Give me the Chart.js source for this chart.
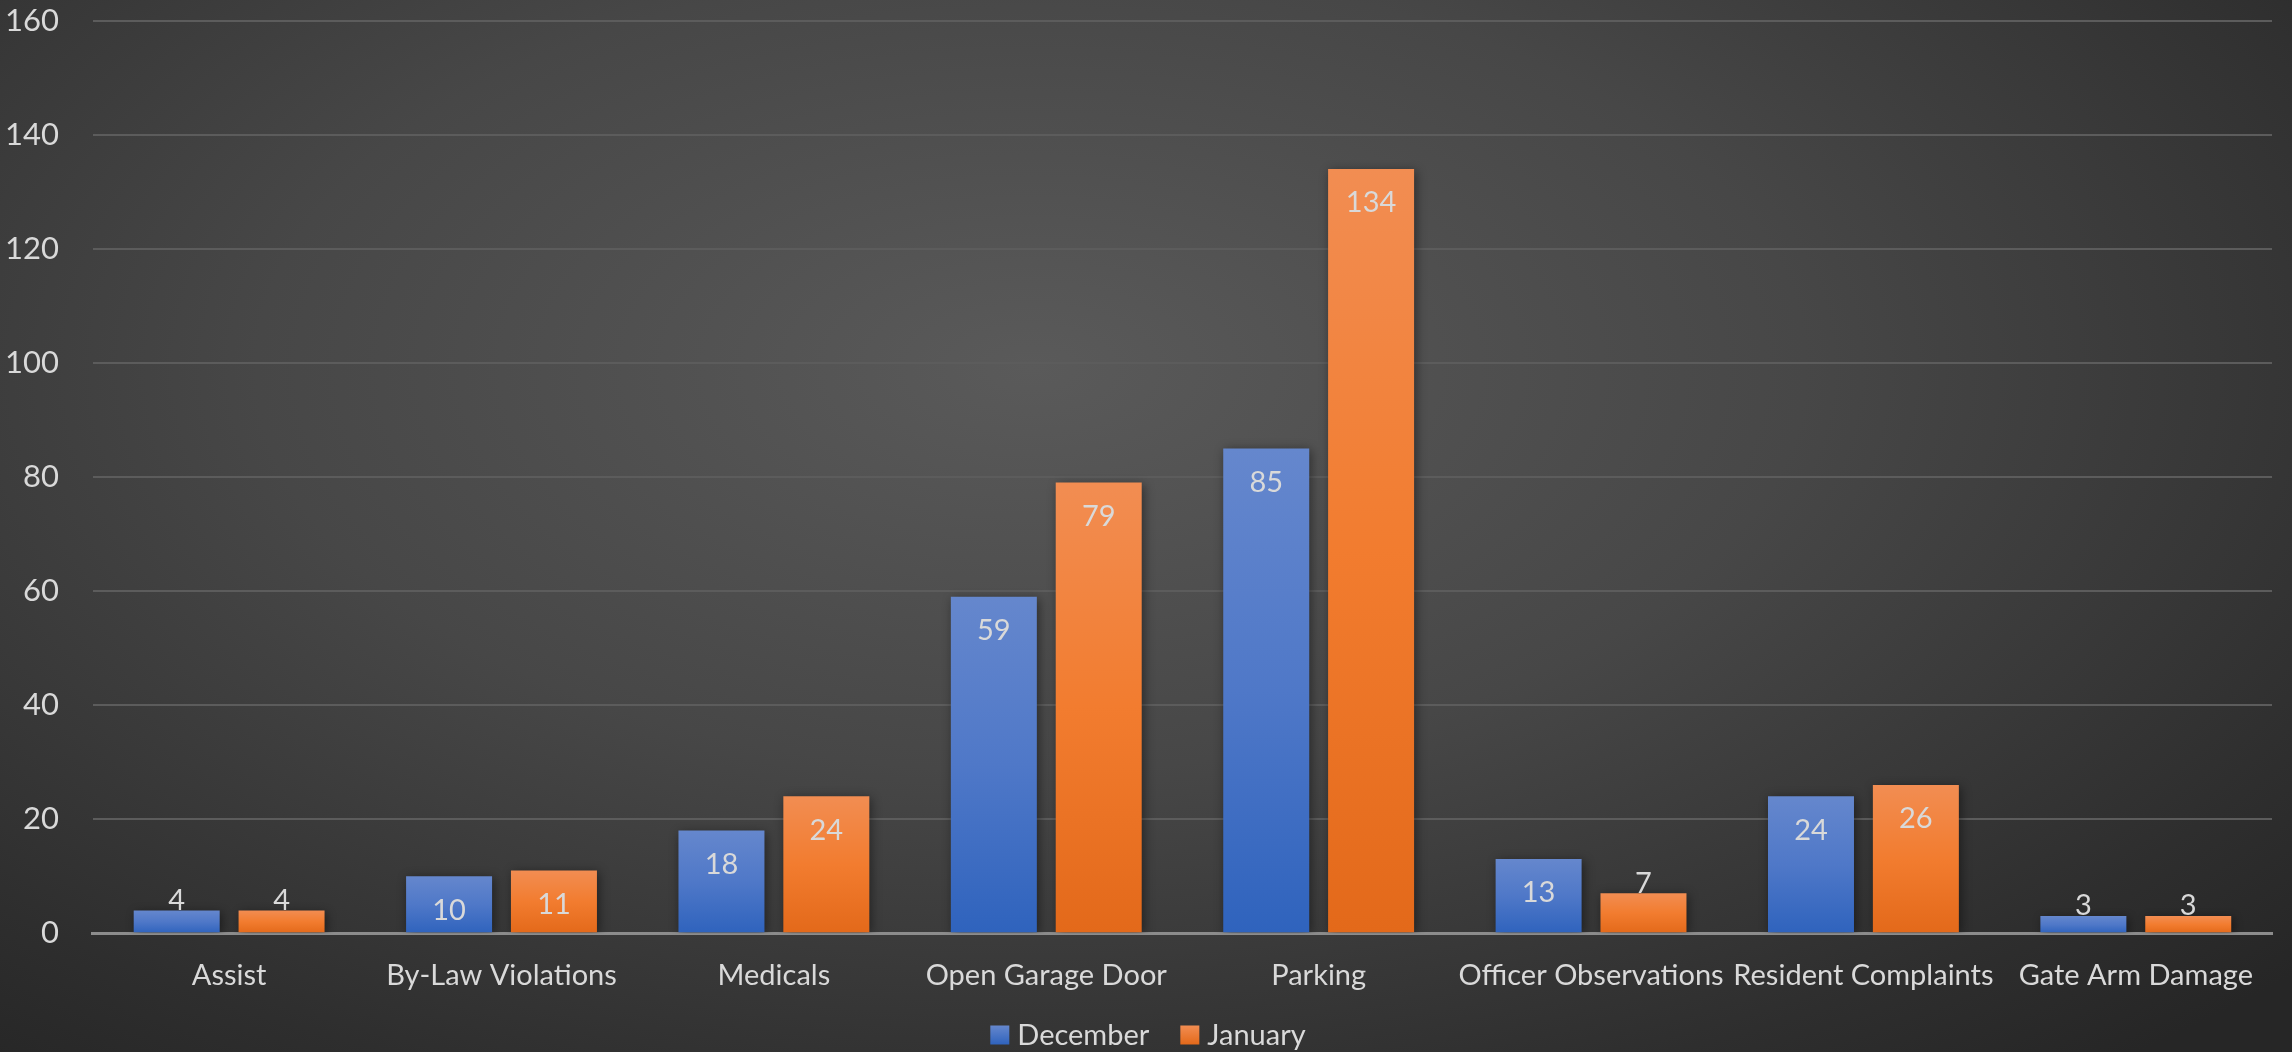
<!DOCTYPE html>
<html>
<head>
<meta charset="utf-8">
<script src="https://cdn.jsdelivr.net/npm/chart.js@4.4.1/dist/chart.umd.min.js"></script>
<style>
  html, body { margin: 0; padding: 0; }
  body {
    width: 2292px; height: 1052px; overflow: hidden; position: relative;
    background: radial-gradient(ellipse 75% 85% at 45% 35%, #5a5a5a 0%, #474747 45%, #2e2e2e 85%, #262626 100%);
  }
  #wrap { position: absolute; left: -29px; top: -32px; width: 2321px; height: 1094px; }
</style>
</head>
<body>
<div id="wrap"><canvas id="grafico"></canvas></div>
<script>
var categorias = ['Assist', 'By-Law Violations', 'Medicals', 'Open Garage Door', 'Parking', 'Officer Observations', 'Resident Complaints', 'Gate Arm Damage'];
var dezembro = [4, 10, 18, 59, 85, 13, 24, 3];
var janeiro = [4, 11, 24, 79, 134, 7, 26, 3];
var nomesSeries = ['December', 'January'];

var fonte = 'Lato, "Open Sans", sans-serif';
var corTexto = '#d9d9d9';
var coresAzul = ['#6587cd', '#4f78c8', '#2f63bd'];
var coresLaranja = ['#f28d52', '#f27c2f', '#e3691a'];

// deslocamento do canvas dentro da pagina
var deslocX = 29;
var deslocY = 32;

// gradiente por barra, claro em cima e escuro embaixo
function gradienteBarra(cores) {
    return function (context) {
        var chart = context.chart;
        if (!chart.chartArea || context.raw === undefined) return cores[1];
        var y = chart.scales.y;
        var topo = y.getPixelForValue(context.raw);
        var base = y.getPixelForValue(0);
        if (base - topo < 1) return cores[1];
        var g = chart.ctx.createLinearGradient(0, topo, 0, base);
        g.addColorStop(0, cores[0]);
        g.addColorStop(0.5, cores[1]);
        g.addColorStop(1, cores[2]);
        return g;
    };
}

var sombraBarras = {
    id: 'sombraBarras',
    beforeDatasetsDraw: function (chart) {
        var ctx = chart.ctx;
        ctx.save();
        ctx.shadowColor = 'rgba(0,0,0,0.45)';
        ctx.shadowBlur = 10;
        ctx.shadowOffsetX = 2;
        ctx.shadowOffsetY = 2;
    },
    afterDatasetsDraw: function (chart) {
        chart.ctx.restore();
    }
};

var rotulos = {
    id: 'rotulos',
    afterDatasetsDraw: function (chart) {
        var ctx = chart.ctx;
        ctx.save();
        ctx.font = '29px ' + fonte;
        ctx.fillStyle = corTexto;
        ctx.textAlign = 'center';
        ctx.textBaseline = 'middle';
        chart.data.datasets.forEach(function (ds, i) {
            var meta = chart.getDatasetMeta(i);
            meta.data.forEach(function (barra, j) {
                var altura = barra.base - barra.y;
                var ty = altura > 40 ? barra.y + 34 : barra.y - 10;
                ctx.fillText(String(ds.data[j]), barra.x, ty);
            });
        });
        ctx.restore();
    }
};

// legenda desenhada na mao pra acertar o espacamento
var legenda = {
    id: 'legenda',
    afterDraw: function (chart) {
        var ctx = chart.ctx;
        ctx.save();
        ctx.font = '29px ' + fonte;
        ctx.textBaseline = 'middle';
        ctx.textAlign = 'left';
        var caixa = 19, gapTexto = 8, gapItem = 31;
        var larguras = nomesSeries.map(function (n) { return ctx.measureText(n).width; });
        var total = caixa * 2 + gapTexto * 2 + larguras[0] + larguras[1] + gapItem;
        var x = 1148 + deslocX - total / 2;
        var y = 1035 + deslocY;
        var cores = [coresAzul, coresLaranja];
        nomesSeries.forEach(function (nome, i) {
            var g = ctx.createLinearGradient(0, y - caixa / 2, 0, y + caixa / 2);
            g.addColorStop(0, cores[i][0]);
            g.addColorStop(1, cores[i][2]);
            ctx.fillStyle = g;
            ctx.fillRect(x, y - caixa / 2, caixa, caixa);
            x += caixa + gapTexto;
            ctx.fillStyle = corTexto;
            ctx.fillText(nome, x, y + 1);
            x += larguras[i] + gapItem;
        });
        ctx.restore();
    }
};

var ctxGrafico = document.getElementById('grafico');

new Chart(ctxGrafico, {
    type: 'bar',
    data: {
        labels: categorias,
        datasets: [{
            label: nomesSeries[0],
            data: dezembro,
            backgroundColor: gradienteBarra(coresAzul),
            borderWidth: 0,
            categoryPercentage: 0.77,
            barPercentage: 0.82
        }, {
            label: nomesSeries[1],
            data: janeiro,
            backgroundColor: gradienteBarra(coresLaranja),
            borderWidth: 0,
            categoryPercentage: 0.77,
            barPercentage: 0.82
        }]
    },
    options: {
        responsive: true,
        maintainAspectRatio: false,
        animation: false,
        layout: {
            padding: { left: 0, right: 20, top: -22, bottom: 44 }
        },
        plugins: {
            legend: { display: false },
            tooltip: { enabled: false }
        },
        scales: {
            x: {
                grid: { display: false, drawTicks: false },
                border: { color: '#8c8c8c', width: 3 },
                ticks: {
                    color: corTexto,
                    font: { family: fonte, size: 29 },
                    padding: 25,
                    maxRotation: 0,
                    autoSkip: false
                }
            },
            y: {
                min: 0,
                max: 160,
                grid: { color: '#5c5c5c', lineWidth: 2, drawTicks: false },
                border: { display: false },
                ticks: {
                    stepSize: 20,
                    color: corTexto,
                    font: { family: fonte, size: 31 },
                    padding: 34
                }
            }
        }
    },
    plugins: [sombraBarras, rotulos, legenda]
});
</script>
</body>
</html>
